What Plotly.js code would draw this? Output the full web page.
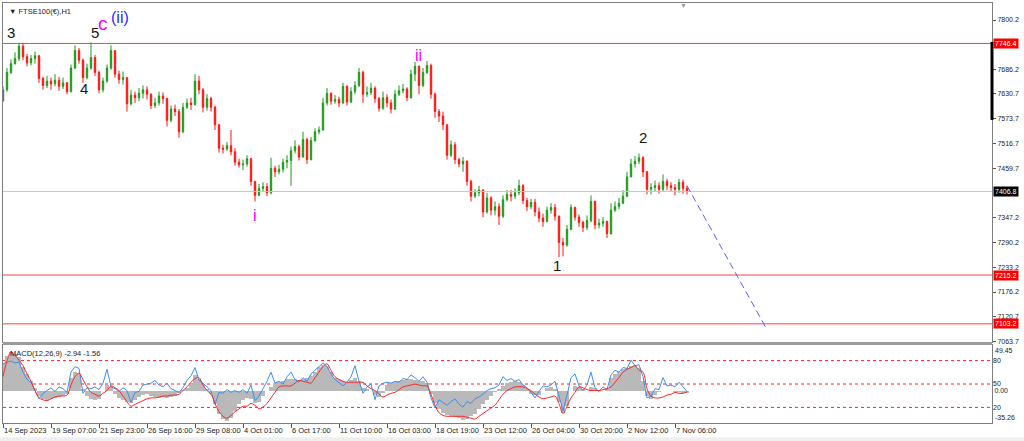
<!DOCTYPE html>
<html><head><meta charset="utf-8">
<script src="https://cdn.plot.ly/plotly-3.0.1.min.js"></script>
<style>html,body{margin:0;padding:0;background:#fff;overflow:hidden}#chart{width:1024px;height:441px}</style>
</head><body><div id="chart"></div>
<script>
// ---------- data ----------
const symbolTitle = '▼ FTSE100(€),H1';
const firstOpen = 7615;
const closes = [
7640,7680,7700,7712,7740,7716,7702,7712,7718,7666,
7650,7660,7654,7662,7648,7656,7636,7690,7730,7708,
7668,7690,7714,7680,7640,7660,7690,7730,7676,7664,
7668,7608,7628,7622,7632,7640,7630,7604,7610,7626,
7620,7570,7596,7590,7544,7600,7610,7606,7660,7640,
7600,7620,7600,7560,7506,7504,7512,7498,7474,7468,
7470,7482,7430,7398,7414,7418,7404,7460,7452,7458,
7474,7478,7500,7510,7486,7526,7480,7524,7544,7548,
7610,7632,7614,7618,7610,7648,7612,7636,7650,7680,
7630,7634,7644,7620,7598,7622,7610,7596,7630,7638,
7642,7622,7676,7694,7650,7680,7696,7630,7590,7580,
7560,7490,7514,7480,7470,7476,7430,7396,7404,7410,
7360,7392,7364,7372,7350,7388,7400,7396,7404,7420,
7386,7372,7382,7360,7346,7338,7364,7370,7350,7290,
7284,7320,7370,7348,7336,7324,7340,7384,7330,7334,
7338,7310,7364,7372,7380,7396,7440,7470,7476,7484,
7452,7412,7416,7420,7412,7430,7420,7416,7412,7428,
7414,7406.8];
const highs = [
7648,7690,7710,7726,7748,7748,7722,7720,7728,7720,
7670,7672,7668,7676,7670,7668,7658,7698,7742,7736,
7712,7700,7749,7720,7684,7668,7698,7742,7730,7684,
7682,7668,7640,7636,7644,7650,7648,7632,7622,7636,
7634,7622,7604,7606,7596,7610,7620,7622,7676,7672,
7644,7630,7624,7604,7560,7514,7520,7548,7506,7482,
7480,7490,7484,7430,7424,7428,7426,7484,7466,7468,
7482,7490,7510,7524,7514,7544,7530,7532,7552,7556,
7622,7644,7634,7628,7624,7656,7650,7646,7660,7690,
7684,7648,7656,7648,7624,7636,7630,7618,7640,7650,
7654,7646,7686,7704,7696,7690,7706,7700,7634,7596,
7590,7560,7524,7520,7484,7486,7478,7434,7412,7420,
7412,7404,7396,7384,7380,7398,7410,7410,7414,7434,
7424,7392,7390,7390,7370,7356,7372,7380,7378,7352,
7300,7330,7378,7372,7354,7340,7352,7398,7386,7344,
7348,7340,7380,7384,7392,7410,7452,7482,7488,7494,
7488,7454,7426,7432,7428,7446,7436,7428,7424,7436,
7434,7420];
const lows = [
7612,7636,7676,7698,7706,7708,7694,7696,7700,7656,
7640,7644,7640,7648,7638,7642,7630,7634,7688,7700,
7656,7664,7686,7672,7632,7634,7656,7686,7668,7654,
7652,7590,7604,7610,7614,7620,7618,7596,7598,7604,
7608,7556,7566,7580,7530,7540,7596,7594,7604,7630,
7588,7592,7590,7548,7496,7494,7500,7490,7466,7462,
7456,7464,7420,7384,7396,7406,7396,7400,7440,7446,
7450,7460,7420,7494,7478,7484,7470,7478,7520,7538,
7546,7604,7606,7608,7600,7608,7604,7610,7630,7646,
7610,7624,7628,7610,7590,7594,7600,7586,7594,7626,
7632,7614,7620,7660,7630,7646,7676,7620,7576,7566,
7548,7480,7486,7470,7462,7452,7420,7384,7392,7396,
7348,7356,7352,7352,7330,7346,7384,7384,7390,7398,
7378,7362,7366,7350,7336,7326,7336,7356,7340,7256,
7258,7280,7318,7340,7326,7314,7318,7336,7320,7322,
7326,7300,7308,7360,7366,7378,7394,7440,7462,7470,
7440,7400,7400,7406,7402,7408,7410,7406,7398,7404,
7402,7400];

// MACD panel
const macdMain = [
30,38,42,40,36,26,18,10,3,-6,
-9,-10,-9,-8,-7,-6,-4,14,20,18,
2,-6,-9,-10,-9,0,6,4,-4,-8,
-10,-12,-14,-10,-7,-5,-4,-6,-7,-8,
-7,-8,-7,-6,-3,1,3,8,17,12,
6,2,-4,-15,-26,-31,-33,-30,-22,-15,
-10,-8,-9,-14,-12,-6,0,4,8,9,
10,12,13,12,11,13,14,16,20,26,
28,27,20,14,12,10,9,11,14,10,
3,2,0,-5,-7,-3,6,8,9,10,
11,12,12,11,10,10,8,-4,-14,-20,
-24,-27,-28,-29,-30,-32,-31,-28,-25,-20,
-15,-10,-6,-2,2,5,8,9,10,9,
6,2,-4,-5,-5,0,3,4,2,-12,
-24,-17,0,5,4,2,0,4,3,1,
0,2,14,18,20,23,25,27,27,25,
10,-6,-9,-5,-2,-1,-1,0,-2,-2,
-3,-2.94];
const fastLine = [
29,31,32,30,31,20,12,9,0,-9,
-3,0,3,-1,4,2,-2,20,26,24,
-3,3,2,4,1,8,23,4,2,-1,
3,0,-13,-2,-1,6,7,8,11,6,
4,8,2,0,-2,3,11,16,25,11,
8,4,0,-15,-2,-3,1,-2,0,-2,
1,-3,6,-11,-6,2,10,20,8,10,
7,15,20,12,9,14,10,18,22,27,
30,26,18,12,8,5,9,15,27,10,
-3,4,7,-10,5,8,9,8,10,9,
13,12,17,14,10,15,9,-8,-19,-10,
-13,-16,-12,-9,-15,-18,-12,-14,-9,-7,
-4,0,2,3,6,15,11,13,10,12,
6,3,-2,-8,-1,5,4,6,10,-7,
-22,-5,14,18,5,0,6,20,3,-1,
4,1,17,22,20,25,24,33,27,28,
15,-8,-6,2,1,14,5,6,4,9,
4,-1];
const signalLine = [
15,32,42,38,33,27,18,10,0,-8,
-10,-11,-9,-7,-6,-6,-5,6,15,19,
12,4,-2,-4,-6,-3,0,5,3,0,
-6,-12,-17,-15,-13,-11,-9,-8,-8,-7,
-6,-6,-5,-5,-4,0,4,9,13,14,
6,0,-4,-14,-23,-28,-30,-27,-23,-20,
-17,-17,-14,-16,-20,-18,-14,-8,-2,4,
5,5,5,8,11,10,9,8,14,20,
26,29,22,15,12,10,9,9,9,9,
9,5,2,0,-4,-7,-5,-3,-2,1,
4,5,6,7,6,5,5,-4,-16,-24,
-27,-28,-28,-28,-28,-28,-29,-30,-31,-28,
-25,-22,-19,-16,-10,-4,0,2,4,4,
4,2,0,-4,-7,-9,-8,-7,-6,-14,
-25,-17,-8,-2,4,3,1,0,0,0,
1,2,4,9,14,20,23,25,27,22,
20,2,-6,-8,-8,-7,-5,-4,-2,-3,
-3,-1.56];
const macdTitle = 'MACD(12,26,9) -2.94 -1.56';
const macdMax = 49.45, macdMin = -35.26;
const macdLevels = [80, 50, 20];

// horizontal price levels and projection
const levelPrices = [7746.4, 7215.2, 7103.2];
const lastPrice = 7406.8;
const projBars = [171, 190.75];
const projPrices = [7420, 7094];

// axis labels
const priceTicks = [7800.2, 7686.2, 7630.7, 7573.7, 7516.7, 7459.7, 7347.2, 7290.2, 7233.2, 7176.2, 7120.7, 7063.7];
const timeTickBars = [0,12,24,36,48,60,72,84,96,108,120,132,144,156,168];
const timeTickLabels = ['14 Sep 2023','19 Sep 07:00','21 Sep 23:00','26 Sep 16:00','29 Sep 08:00','4 Oct 01:00','6 Oct 17:00','11 Oct 10:00','16 Oct 03:00','18 Oct 19:00','23 Oct 12:00','26 Oct 04:00','30 Oct 20:00','2 Nov 12:00','7 Nov 06:00'];

// wave labels: text, bar, price
const waveText  = ['3', '5', 'c', '(ii)', '4', 'i', 'ii', '2', '1'];
const waveBar   = [2, 23.1, 24.9, 29.2, 20.25, 62.9, 103.75, 160, 138.5];
const wavePrice = [7772, 7771, 7793, 7805, 7644, 7351, 7718, 7531, 7237];

// ---------- build ----------
const bars = closes.map((_, i) => i);
const opens = [firstOpen].concat(closes.slice(0, -1));

const XR = [0, 247.25];
const mainDom = [0.1929, 1];
const macdDom = [0, 0.1857];
const FONT = '"Liberation Sans", Arial, sans-serif';

const traces = [];
traces.push({type:'scatter', mode:'lines', x:XR, y:[lastPrice, lastPrice], xaxis:'x', yaxis:'y',
  line:{color:'#c8c8c8', width:1}, hoverinfo:'skip'});
traces.push({type:'candlestick', x:bars, open:opens, high:highs, low:lows, close:closes,
   xaxis:'x', yaxis:'y', whiskerwidth:0,
   increasing:{line:{color:'#1e9a1e', width:1}, fillcolor:'#1e9a1e'},
   decreasing:{line:{color:'#ff1414', width:1}, fillcolor:'#ff1414'},
   hoverinfo:'skip'});
levelPrices.forEach(p => traces.push({type:'scatter', mode:'lines', x:XR, y:[p, p], xaxis:'x', yaxis:'y',
  line:{color:'#ff4040', width:1}, hoverinfo:'skip'}));
traces.push({type:'scatter', mode:'lines', x:projBars, y:projPrices, xaxis:'x', yaxis:'y',
   line:{color:'#5c5cff', width:1, dash:'7px,4px'}, hoverinfo:'skip'});
traces.push({type:'bar', x:bars, y:macdMain, xaxis:'x2', yaxis:'y2', width:1,
   marker:{color:'#b9b9b9', line:{width:0}}, hoverinfo:'skip'});
traces.push({type:'scatter', mode:'lines', x:bars, y:fastLine, xaxis:'x2', yaxis:'y2',
   line:{color:'#3d8ef0', width:1}, hoverinfo:'skip'});
traces.push({type:'scatter', mode:'lines', x:bars, y:signalLine, xaxis:'x2', yaxis:'y2',
   line:{color:'#ff2a2a', width:1, shape:'spline'}, hoverinfo:'skip'});

const shapes = [];
macdLevels.forEach(v => shapes.push({type:'line', xref:'paper', x0:0, x1:1, yref:'y3', y0:v, y1:v,
  line:{color:'#ff2020', width:1, dash:'dot'}, layer:'below'}));
shapes.push({type:'rect', xref:'paper', x0:0, x1:1, yref:'paper', y0:macdDom[1], y1:mainDom[0],
  fillcolor:'#9a9a9a', line:{width:0}});
shapes.push({type:'line', xref:'paper', x0:1, x1:1, yref:'y', y0:7571, y1:7750,
  line:{color:'#000', width:3}});
shapes.push({type:'rect', xref:'paper', x0:-0.01, x1:1.05, yref:'paper', y0:-0.043, y1:-0.034,
  fillcolor:'#efefef', line:{width:0}, layer:'below'});

const annotations = [];
annotations.push({xref:'paper', yref:'paper', x:0, y:1, xanchor:'left', yanchor:'top', xshift:4, yshift:-2,
  text:symbolTitle, showarrow:false, font:{family:FONT, size:7.5, color:'#222'}});
annotations.push({xref:'paper', yref:'paper', x:0.6876, y:1, xanchor:'center', yanchor:'top', yshift:3,
  text:'▼', showarrow:false, font:{family:FONT, size:7, color:'#9a9a9a'}});
annotations.push({xref:'paper', yref:'paper', x:0, y:macdDom[1], xanchor:'left', yanchor:'top', xshift:5, yshift:-2,
  text:macdTitle, showarrow:false, font:{family:FONT, size:7.5, color:'#222'}});
annotations.push({xref:'paper', yref:'y2', x:1, y:macdMax, xanchor:'left', yanchor:'top', xshift:1, yshift:0,
  text:macdMax.toFixed(2), showarrow:false, font:{family:FONT, size:7, color:'#222'}});
annotations.push({xref:'paper', yref:'y2', x:1, y:macdMin, xanchor:'left', yanchor:'bottom', xshift:1, yshift:0,
  text:macdMin.toFixed(2), showarrow:false, font:{family:FONT, size:7, color:'#222'}});
levelPrices.forEach(p => annotations.push({xref:'paper', yref:'y', x:1, y:p, xanchor:'left', yanchor:'middle', xshift:1,
  text:p.toFixed(1), showarrow:false, bgcolor:'#ff0000', borderpad:1, font:{family:FONT, size:7, color:'#fff'}}));
annotations.push({xref:'paper', yref:'y', x:1, y:lastPrice, xanchor:'left', yanchor:'middle', xshift:1,
  text:lastPrice.toFixed(1), showarrow:false, bgcolor:'#000', borderpad:1, font:{family:FONT, size:7, color:'#fff'}});

const waveStyle = {
  '3':{c:'#151515', s:15}, '5':{c:'#151515', s:15}, '4':{c:'#151530', s:15},
  '2':{c:'#151515', s:15}, '1':{c:'#151515', s:15},
  'c':{c:'#ff00ff', s:19}, '(ii)':{c:'#2b2bff', s:16}, 'i':{c:'#ff00ff', s:16}, 'ii':{c:'#ff00ff', s:16}
};
waveText.forEach((t, k) => annotations.push({xref:'x', yref:'y', x:waveBar[k], y:wavePrice[k],
  xanchor:'center', yanchor:'middle', text:t, showarrow:false,
  font:{family:FONT, size:waveStyle[t].s, color:waveStyle[t].c}}));

const axisLine = {showline:true, mirror:true, linecolor:'#7d7d7d', linewidth:1, showgrid:false, zeroline:false, fixedrange:true};

const layout = {
  width:1024, height:441,
  margin:{l:3, r:32, t:3, b:18, pad:0},
  paper_bgcolor:'#ffffff', plot_bgcolor:'#ffffff',
  showlegend:false, hovermode:false, dragmode:false,
  font:{family:FONT, size:7, color:'#222'},
  bargap:0, boxgap:0.5,
  xaxis:Object.assign({}, axisLine, {domain:[0,1], anchor:'y', range:XR, showticklabels:false, ticks:'',
    rangeslider:{visible:false}}),
  xaxis2:Object.assign({}, axisLine, {domain:[0,1], anchor:'y2', matches:'x', range:XR,
    tickmode:'array', tickvals:timeTickBars, ticktext:timeTickLabels, tickangle:0,
    ticks:'outside', ticklen:4, tickcolor:'#555', ticklabelposition:'outside right',
    tickfont:{family:FONT, size:7.5, color:'#222'}}),
  yaxis:Object.assign({}, axisLine, {domain:mainDom, anchor:'x', side:'right', range:[7061.6, 7839.2],
    tickmode:'array', tickvals:priceTicks, ticktext:priceTicks.map(v => v.toFixed(1)),
    ticks:'outside', ticklen:3, tickcolor:'#555', tickfont:{family:FONT, size:7, color:'#222'}}),
  yaxis2:Object.assign({}, axisLine, {domain:macdDom, anchor:'x2', side:'right', range:[macdMin, macdMax],
    tickmode:'array', tickvals:[0], ticktext:['0.00'], ticks:'', tickfont:{family:FONT, size:7, color:'#222'}}),
  yaxis3:{overlaying:'y2', anchor:'x2', side:'right', range:[0,100], showgrid:false, zeroline:false, showline:false,
    tickmode:'array', tickvals:macdLevels, ticktext:macdLevels.map(String), ticks:'', fixedrange:true,
    tickfont:{family:FONT, size:7, color:'#222'}},
  shapes:shapes,
  annotations:annotations
};

Plotly.newPlot('chart', traces, layout, {displayModeBar:false, staticPlot:true, responsive:false});
</script>
</body></html>
